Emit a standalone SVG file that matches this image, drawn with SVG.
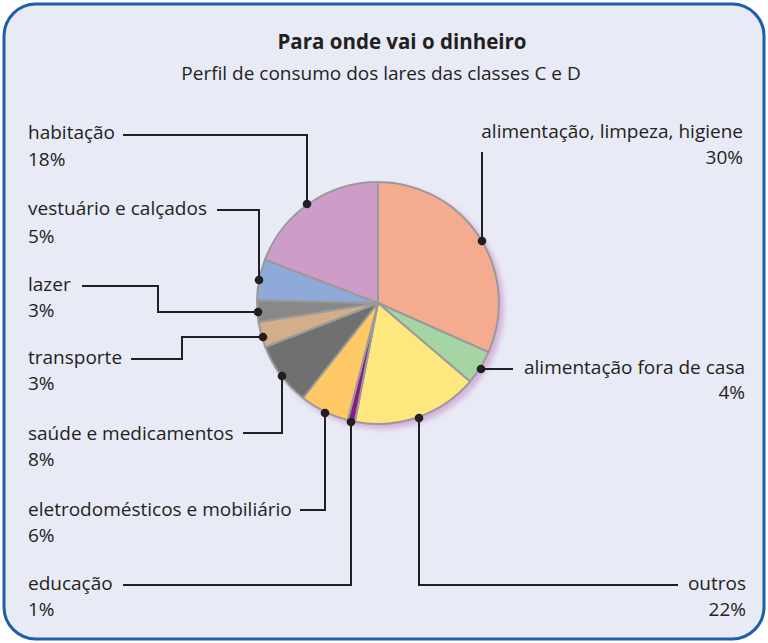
<svg xmlns="http://www.w3.org/2000/svg" width="768" height="643" viewBox="0 0 768 643">
<defs>
<style>
.t{font-family:"Open Sans","Noto Sans","Liberation Sans",sans-serif;font-size:19px;fill:#231F20}
.title{font-weight:bold;font-size:20.5px}
.r{text-anchor:end}
.c{text-anchor:middle}
.ln{fill:none;stroke:#231F20;stroke-width:2}
.dot{fill:#231F20}
.sl{stroke:#9A9A9A;stroke-width:2;stroke-linejoin:round}
</style>
<filter id="blur" x="-20%" y="-20%" width="140%" height="140%"><feGaussianBlur stdDeviation="2.5"/></filter>
</defs>
<rect width="768" height="643" fill="#ffffff"/>
<rect x="4" y="4" width="760" height="635" rx="32" ry="32" fill="#E8EAF6" stroke="#1F5EA8" stroke-width="3"/>
<g id="title">
<text class="t title c" x="402" y="49">Para onde vai o dinheiro</text>
<text class="t c" x="381" y="80">Perfil de consumo dos lares das classes C e D</text>
</g>
<g id="pie">
<circle cx="382" cy="307" r="122" fill="#D7B2DC" filter="url(#blur)"/>
<circle cx="378" cy="303" r="121" fill="#ffffff"/>
<path id="s-alimentacao" class="sl" fill="#F5AB8F" d="M378,303 L378,182 A121,121 0 0 1 488.5,352.2 Z"/>
<path id="s-fora" class="sl" fill="#A5D5A5" d="M378,303 L488.5,352.2 A121,121 0 0 1 470.0,381.6 Z"/>
<path id="s-outros" class="sl" fill="#FFE780" d="M378,303 L470.0,381.6 A121,121 0 0 1 354.9,421.8 Z"/>
<path id="s-educacao" class="sl" fill="#8E1A87" d="M378,303 L354.9,421.8 A121,121 0 0 1 347.7,420.1 Z"/>
<path id="s-eletro" class="sl" fill="#FFC866" d="M378,303 L347.7,420.1 A121,121 0 0 1 303.0,398.0 Z"/>
<path id="s-saude" class="sl" fill="#707070" d="M378,303 L303.0,398.0 A121,121 0 0 1 265.3,347.0 Z"/>
<path id="s-transporte" class="sl" fill="#D4AE8A" d="M378,303 L265.3,347.0 A121,121 0 0 1 258.5,321.9 Z"/>
<path id="s-lazer" class="sl" fill="#888888" d="M378,303 L258.5,321.9 A121,121 0 0 1 257.0,300.0 Z"/>
<path id="s-vestuario" class="sl" fill="#8FA9D8" d="M378,303 L257.0,300.0 A121,121 0 0 1 265.0,259.6 Z"/>
<path id="s-habitacao" class="sl" fill="#CE9CC9" d="M378,303 L265.0,259.6 A121,121 0 0 1 378,182 Z"/>
</g>
<g id="connectors">
<polyline class="ln" points="123,135 307,135 307,204"/>
<polyline class="ln" points="217,210 259,210 259,280"/>
<polyline class="ln" points="82,286 158,286 158,312 258,312"/>
<polyline class="ln" points="131,359 182,359 182,337 263,337"/>
<polyline class="ln" points="243,433 282,433 282,376"/>
<polyline class="ln" points="300,510 325,510 325,413"/>
<polyline class="ln" points="123,585 351,585 351,422"/>
<polyline class="ln" points="419,418 419,585 678,585"/>
<polyline class="ln" points="482,152 482,241"/>
<polyline class="ln" points="481,369 513,369"/>
<circle class="dot" cx="307" cy="204" r="4.3"/>
<circle class="dot" cx="259" cy="280" r="4.3"/>
<circle class="dot" cx="258" cy="312" r="4.3"/>
<circle class="dot" cx="263" cy="337" r="4.3"/>
<circle class="dot" cx="282" cy="376" r="4.3"/>
<circle class="dot" cx="325" cy="413" r="4.3"/>
<circle class="dot" cx="351" cy="422" r="4.3"/>
<circle class="dot" cx="419" cy="418" r="4.3"/>
<circle class="dot" cx="482" cy="241" r="4.3"/>
<circle class="dot" cx="481" cy="369" r="4.3"/>
</g>
<g id="label-habitacao"><text class="t" x="28" y="139">habitação</text><text class="t" x="28" y="166">18%</text></g>
<g id="label-vestuario"><text class="t" x="28" y="215">vestuário e calçados</text><text class="t" x="28" y="243">5%</text></g>
<g id="label-lazer"><text class="t" x="28" y="291">lazer</text><text class="t" x="28" y="317">3%</text></g>
<g id="label-transporte"><text class="t" x="28" y="364">transporte</text><text class="t" x="28" y="390">3%</text></g>
<g id="label-saude"><text class="t" x="28" y="440">saúde e medicamentos</text><text class="t" x="28" y="466">8%</text></g>
<g id="label-eletro"><text class="t" x="28" y="516">eletrodomésticos e mobiliário</text><text class="t" x="28" y="542">6%</text></g>
<g id="label-educacao"><text class="t" x="28" y="590">educação</text><text class="t" x="28" y="616">1%</text></g>
<g id="label-alimentacao"><text class="t r" x="743" y="138">alimentação, limpeza, higiene</text><text class="t r" x="743" y="164">30%</text></g>
<g id="label-fora"><text class="t r" x="745" y="374">alimentação fora de casa</text><text class="t r" x="745" y="399">4%</text></g>
<g id="label-outros"><text class="t r" x="746" y="590">outros</text><text class="t r" x="746" y="616">22%</text></g>
</svg>
